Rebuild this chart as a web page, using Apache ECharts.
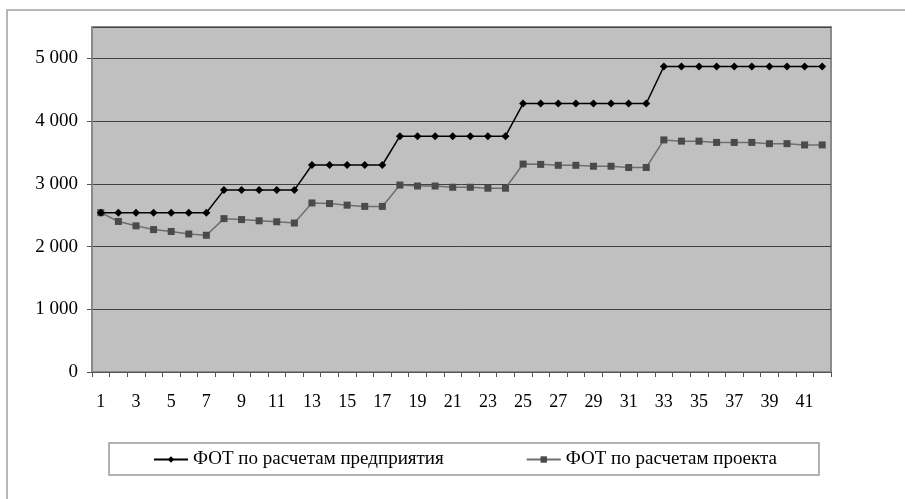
<!DOCTYPE html>
<html>
<head>
<meta charset="utf-8">
<script src="https://cdn.jsdelivr.net/npm/echarts@6/dist/echarts.min.js"></script>
<style>
  html, body { margin: 0; padding: 0; background: #ffffff; }
  #chart { width: 905px; height: 499px; }
</style>
</head>
<body>
<div id="chart"></div>
<script>
// Periods 1..42
const periods = Array.from({ length: 42 }, (_, i) => String(i + 1));

// Payroll fund (ФОТ) by enterprise calculations
const enterpriseFot = [
  2540, 2540, 2540, 2540, 2540, 2540, 2540,
  2900, 2900, 2900, 2900, 2900,
  3300, 3300, 3300, 3300, 3300,
  3760, 3760, 3760, 3760, 3760, 3760, 3760,
  4280, 4280, 4280, 4280, 4280, 4280, 4280, 4280,
  4870, 4870, 4870, 4870, 4870, 4870, 4870, 4870, 4870, 4870
];

// Payroll fund (ФОТ) by project calculations
const projectFot = [
  2540, 2400, 2330, 2270, 2240, 2200, 2180,
  2445, 2430, 2410, 2395, 2375,
  2695, 2685, 2660, 2640, 2640,
  2980, 2965, 2965, 2945, 2945, 2930, 2930,
  3315, 3310, 3295, 3295, 3280, 3280, 3260, 3260,
  3700, 3680, 3680, 3660, 3660, 3660, 3640, 3640, 3620, 3620
];

const seriesNames = ['ФОТ по расчетам предприятия', 'ФОТ по расчетам проекта'];

const serif = '"Liberation Serif", "DejaVu Serif", serif';

function fmtThousands(v) {
  return String(v).replace(/\B(?=(\d{3})+(?!\d))/g, ' ');
}

const chart = echarts.init(document.getElementById('chart'), null, { renderer: 'canvas' });

chart.setOption({
  backgroundColor: '#ffffff',
  animation: false,
  graphic: [
    {
      type: 'rect',
      shape: { x: 7, y: 10, width: 940, height: 540 },
      style: { fill: 'none', stroke: '#a0a0a0', lineWidth: 1.5 },
      silent: true
    },
    {
      type: 'rect',
      shape: { x: 109, y: 443, width: 710, height: 32 },
      style: { fill: '#ffffff', stroke: '#999999', lineWidth: 1.5 },
      silent: true,
      z: -1
    }
  ],
  grid: {
    left: 92, right: 74, top: 27, bottom: 127,
    show: true,
    backgroundColor: '#c0c0c0',
    borderColor: '#8a8a8a',
    borderWidth: 2
  },
  legend: {
    data: seriesNames,
    left: 153,
    top: 450,
    padding: 0,
    itemWidth: 34,
    itemHeight: 8,
    itemGap: 82,
    textStyle: { fontFamily: serif, fontSize: 19, color: '#000000' }
  },
  xAxis: {
    type: 'category',
    data: periods,
    boundaryGap: true,
    axisLine: { show: true, lineStyle: { color: '#555555', width: 1 } },
    axisTick: { show: true, interval: 0, length: 5, lineStyle: { color: '#555555' } },
    axisLabel: {
      interval: 1,
      margin: 21,
      fontFamily: serif,
      fontSize: 18,
      color: '#000000'
    },
    splitLine: { show: false }
  },
  yAxis: {
    type: 'value',
    min: 0,
    max: 5500,
    interval: 1000,
    axisLine: { show: true, lineStyle: { color: '#8a8a8a', width: 1 } },
    axisTick: { show: true, length: 5, lineStyle: { color: '#555555' } },
    axisLabel: {
      showMaxLabel: false,
      margin: 14,
      fontFamily: serif,
      fontSize: 19,
      color: '#000000',
      formatter: fmtThousands
    },
    splitLine: { show: true, lineStyle: { color: '#404040', width: 1 } }
  },
  series: [
    {
      name: seriesNames[0],
      type: 'line',
      data: enterpriseFot,
      symbol: 'diamond',
      symbolSize: 8,
      showAllSymbol: true,
      lineStyle: { color: '#000000', width: 1.5 },
      itemStyle: { color: '#000000' },
      z: 3
    },
    {
      name: seriesNames[1],
      type: 'line',
      data: projectFot,
      symbol: 'rect',
      symbolSize: 7,
      showAllSymbol: true,
      lineStyle: { color: '#6e6e6e', width: 1.5 },
      itemStyle: { color: '#4a4a4a' },
      z: 2
    }
  ]
});
</script>
</body>
</html>
